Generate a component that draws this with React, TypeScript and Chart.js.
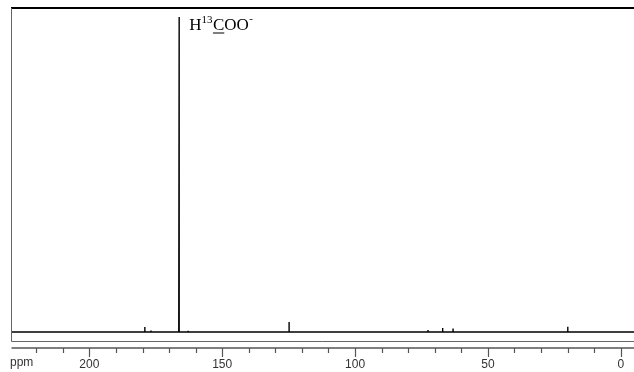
import React, { useEffect, useRef } from "react";
import { Chart, registerables } from "chart.js";

Chart.register(...registerables);

// Peak positions (ppm) and heights (relative intensity)
const peakPpm = [179.1, 176.8, 166.2, 162.8, 124.8, 72.5, 67.0, 63.1, 19.9];
const peakHeight = [1.6, 0.5, 100, 0.4, 3.2, 0.6, 1.3, 1.1, 1.7];
const peakHalfWidth = [0.03, 0.03, 0.15, 0.03, 0.04, 0.03, 0.03, 0.03, 0.04];

const majorTicks = [200, 150, 100, 50, 0];
const minorTicks = [220, 210, 190, 180, 170, 160, 140, 130, 120, 110, 90, 80, 70, 60, 40, 30, 20, 10];
const axisTitle = "ppm";
const xMin = -5.0;
const xMax = 229.5;

function buildSpectrum() {
  const pts: { x: number; y: number }[] = [{ x: xMin, y: 0 }, { x: xMax, y: 0 }];
  peakPpm.forEach((p, i) => {
    const w = peakHalfWidth[i];
    pts.push({ x: p - w, y: 0 });
    pts.push({ x: p, y: peakHeight[i] });
    pts.push({ x: p + w, y: 0 });
  });
  pts.sort((a, b) => a.x - b.x);
  return pts;
}

const decorPlugin = {
  id: "nmrDecor",
  afterDraw(chart: any) {
    const ctx = chart.ctx;
    const xs = chart.scales.x;
    const ys = chart.scales.y;
    const area = chart.chartArea;
    ctx.save();
    // frame
    const boxBottom = 341;
    ctx.strokeStyle = "#000";
    ctx.lineWidth = 2;
    ctx.beginPath();
    ctx.moveTo(area.left, area.top);
    ctx.lineTo(area.right, area.top);
    ctx.stroke();
    ctx.strokeStyle = "#666";
    ctx.lineWidth = 1;
    ctx.beginPath();
    ctx.moveTo(area.left + 0.5, area.top);
    ctx.lineTo(area.left + 0.5, boxBottom + 0.5);
    ctx.lineTo(area.right, boxBottom + 0.5);
    ctx.stroke();
    // axis line
    const axisY = 348;
    ctx.strokeStyle = "#555";
    ctx.lineWidth = 1.5;
    ctx.beginPath();
    ctx.moveTo(area.left + 0.5, axisY);
    ctx.lineTo(area.right, axisY);
    ctx.stroke();
    ctx.lineWidth = 1.2;
    minorTicks.forEach((t) => {
      const px = Math.round(xs.getPixelForValue(t)) + 0.5;
      ctx.beginPath();
      ctx.moveTo(px, axisY);
      ctx.lineTo(px, axisY + 5);
      ctx.stroke();
    });
    majorTicks.forEach((t) => {
      const px = Math.round(xs.getPixelForValue(t)) + 0.5;
      ctx.beginPath();
      ctx.moveTo(px, axisY);
      ctx.lineTo(px, axisY + 9);
      ctx.stroke();
    });
    ctx.fillStyle = "#333";
    ctx.font = "12px 'Liberation Sans', Arial, sans-serif";
    ctx.textBaseline = "middle";
    ctx.textAlign = "center";
    majorTicks.forEach((t) => {
      ctx.fillText(String(t), xs.getPixelForValue(t), 365);
    });
    ctx.textAlign = "left";
    ctx.fillText(axisTitle, 10, 363);

    // annotation label
    const mainIdx = peakHeight.indexOf(Math.max(...peakHeight));
    let x = xs.getPixelForValue(peakPpm[mainIdx]) + 10;
    const base = ys.getPixelForValue(peakHeight[mainIdx]) + 13;
    ctx.fillStyle = "#000";
    ctx.textBaseline = "alphabetic";
    const big = "17px 'Liberation Serif', 'Times New Roman', serif";
    const small = "11px 'Liberation Serif', 'Times New Roman', serif";
    ctx.font = big;
    ctx.fillText("H", x, base);
    x += ctx.measureText("H").width;
    ctx.font = small;
    ctx.fillText("13", x, base - 7);
    x += ctx.measureText("13").width + 0.5;
    ctx.font = big;
    ctx.fillText("C", x, base);
    const cw = ctx.measureText("C").width;
    ctx.strokeStyle = "#000";
    ctx.lineWidth = 1;
    ctx.beginPath();
    ctx.moveTo(x, base + 3);
    ctx.lineTo(x + cw, base + 3);
    ctx.stroke();
    x += cw;
    ctx.fillText("OO", x, base);
    x += ctx.measureText("OO").width;
    ctx.font = small;
    ctx.fillText("-", x + 0.5, base - 8);
    ctx.restore();
  },
};

export default function App() {
  const ref = useRef<HTMLCanvasElement | null>(null);
  useEffect(() => {
    if (!ref.current) return;
    const chart = new Chart(ref.current, {
      type: "line",
      data: {
        datasets: [
          {
            data: buildSpectrum(),
            borderColor: "#000",
            borderWidth: 1.4,
            borderJoinStyle: "bevel",
            pointRadius: 0,
            tension: 0,
            fill: false,
          },
        ],
      },
      options: {
        animation: false,
        responsive: false,
        devicePixelRatio: 1,
        layout: { padding: { left: 11, top: 8, right: 0, bottom: 24 } },
        plugins: { legend: { display: false }, tooltip: { enabled: false } },
        scales: {
          x: { type: "linear", reverse: true, min: xMin, max: xMax, display: false },
          y: { type: "linear", min: -5.08, max: 102.86, display: false },
        },
      },
      plugins: [decorPlugin],
    });
    return () => chart.destroy();
  }, []);
  return (
    <div style={{ position: "absolute", left: 0, top: 0, width: 634, height: 372, background: "#fff" }}>
      <canvas ref={ref} width={634} height={372} />
    </div>
  );
}
